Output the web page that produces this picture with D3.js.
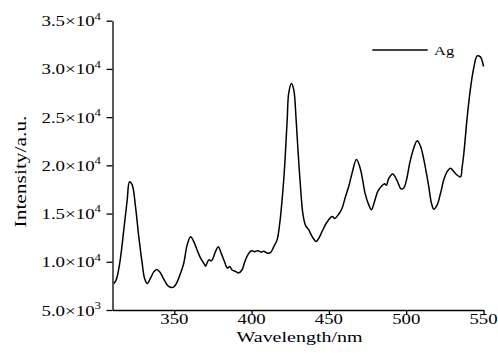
<!DOCTYPE html>
<html>
<head>
<meta charset="utf-8">
<script src="https://cdn.jsdelivr.net/npm/d3@7/dist/d3.min.js"></script>
<style>
  html, body { margin: 0; padding: 0; background: #fff; }
  svg { display: block; }
  text { font-family: "Liberation Serif", "Times New Roman", serif; fill: #000; }
</style>
</head>
<body>
<svg id="chart" width="498" height="361"></svg>
<script>
const wavelength = [310.8,312,313,315,317.3,319.5,321,322.7,324.9,327,329.2,330.7,332.4,334.6,336.7,338.5,340.6,342.8,345.4,347.5,349.7,351.8,354,356.1,358.3,360.5,362.6,364.8,366.9,369.6,370.2,372.3,374,376.6,378.4,380.3,382.5,384.2,385.9,387.4,389.6,391.7,393.9,395.6,397.8,399.9,402,404,406.2,407.9,410,412.2,414.3,416.5,418.2,419.3,421,423,424,425.8,427.3,428.8,430.1,431.6,433.1,434.8,437,439.2,441.8,443.5,445.6,448.9,452.1,453.8,456.4,458.5,460.7,462.8,465,467.8,470.4,473.4,475.8,477.5,479.5,481.6,483.8,486,487.2,488.7,491.3,493.7,495.2,496.7,498.4,500.2,502.3,504.9,507.1,509.2,511.4,513.5,514.6,516.3,517.8,520,522.2,524.3,526.5,528.6,530.8,532.9,535.1,536.2,537.2,539.4,541.6,543.7,545.9,548,549.3,550];
const intensityAg = [7750,8000,8450,10200,13300,16400,18300,18000,15700,12600,9850,8300,7750,8300,8950,9200,8950,8300,7600,7350,7400,7900,8800,9850,11750,12600,12100,11200,10400,9700,9550,10200,10100,11050,11550,10900,10000,9350,9500,9150,9000,8850,9200,10000,10800,11150,11050,11150,11000,11100,10900,10950,11550,12300,14000,15700,19000,24700,27500,28500,27800,24700,21300,17800,15050,13800,13300,12600,12100,12450,13150,14150,14700,14500,14950,15550,16750,17800,19200,20600,19600,17100,15900,15400,16250,17300,17800,18100,17950,18650,19100,18550,18000,17550,17650,18500,20250,21800,22550,22000,20600,18800,17800,16100,15450,15900,17100,18500,19350,19700,19350,19000,18800,19850,21100,24900,28000,30100,31350,31250,30750,30250];

const xTicks = [350, 400, 450, 500, 550];
const yTicks = [5000, 10000, 15000, 20000, 25000, 30000, 35000];
const yTickMantissa = ["5.0", "1.0", "1.5", "2.0", "2.5", "3.0", "3.5"];
const yTickExponent = ["3", "4", "4", "4", "4", "4", "4"];
const seriesName = "Ag";
const xTitle = "Wavelength/nm";
const yTitle = "Intensity/a.u.";

const svg = d3.select("#chart");
const mLeft = 112.5, mRight = 483.5, mTop = 20.7, mBottom = 310;

const x = d3.scaleLinear().domain([310, 550]).range([mLeft, mRight]);
const y = d3.scaleLinear().domain([5000, 35000]).range([mBottom, mTop]);

// axes
const xAxis = d3.axisBottom(x).tickValues(xTicks).tickSize(5).tickSizeOuter(0).tickFormat("");
const yAxis = d3.axisLeft(y).tickValues(yTicks).tickSize(6).tickSizeOuter(0).tickFormat("");

const gx = svg.append("g").attr("transform", `translate(0,${mBottom})`).call(xAxis);
const gy = svg.append("g").attr("transform", `translate(${mLeft},0)`).call(yAxis);
[gx, gy].forEach(g => {
  g.selectAll("path, line").attr("stroke", "#000").attr("stroke-width", 1.3);
});

// x tick labels
svg.append("g").selectAll("text").data(xTicks).join("text")
  .attr("transform", d => `translate(${x(d)},324.3) scale(1.25,1)`)
  .attr("text-anchor", "middle")
  .attr("font-size", 15)
  .text(d => d);

// y tick labels
const yl = svg.append("g").selectAll("text").data(yTicks).join("text")
  .attr("transform", d => `translate(101,${y(d) + 5.5}) scale(1.22,1)`)
  .attr("text-anchor", "end")
  .attr("font-size", 15.5);
yl.append("tspan").text((d, i) => yTickMantissa[i] + "\u00d710");
yl.append("tspan").attr("dy", -6.7).attr("font-size", 10.5).text((d, i) => yTickExponent[i]);

// axis titles
svg.append("text")
  .attr("transform", `translate(${(mLeft + mRight) / 2 + 1.5},341.5) scale(1.29,1)`)
  .attr("text-anchor", "middle")
  .attr("font-size", 15.5)
  .text(xTitle);

svg.append("text")
  .attr("transform", `translate(26,171.5) rotate(-90) scale(1.3,1)`)
  .attr("text-anchor", "middle")
  .attr("font-size", 16.5)
  .text(yTitle);

// line
const line = d3.line().x((d, i) => x(wavelength[i])).y(d => y(d)).curve(d3.curveCatmullRom.alpha(0.5));
svg.append("path")
  .datum(intensityAg)
  .attr("fill", "none")
  .attr("stroke", "#000")
  .attr("stroke-width", 1.5)
  .attr("stroke-linejoin", "round")
  .attr("d", line);

// legend
svg.append("line").attr("x1", 372.3).attr("x2", 427.7).attr("y1", 50).attr("y2", 50)
  .attr("stroke", "#000").attr("stroke-width", 1.3);
svg.append("text")
  .attr("transform", `translate(434,55) scale(1.22,1)`)
  .attr("font-size", 13.5)
  .text(seriesName);
</script>
</body>
</html>
